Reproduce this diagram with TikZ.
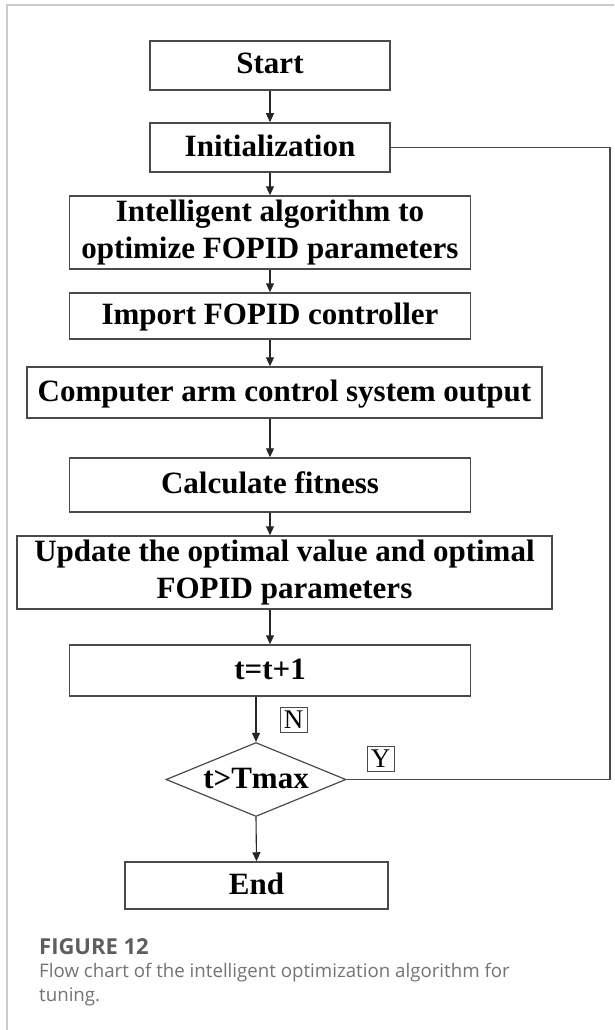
\documentclass[tikz,border=0pt]{standalone}
\usepackage{fontspec}
\setmainfont{Liberation Serif}
\newfontfamily\capfont{Open Sans}
\usetikzlibrary{arrows.meta,shapes.geometric}
\definecolor{edge}{HTML}{4A4A4A}
\definecolor{frame}{HTML}{CCCCCC}
\definecolor{capdark}{HTML}{5E5E5E}
\definecolor{caplight}{HTML}{747474}

\begin{document}
\begin{tikzpicture}[x=1pt,y=-1pt,
  blk/.style={draw=edge, line width=1.5pt, rectangle, inner sep=0pt,
    font=\bfseries\fontsize{31}{37}\selectfont, align=center},
  one/.style={text height=23pt, text depth=6pt},
  flow/.style={draw=black!85, line width=1.1pt, -{Triangle[length=9pt,width=8pt]}},
  back/.style={draw=edge, line width=1.2pt},
  tag/.style={draw=edge, line width=0.9pt, inner sep=0pt, minimum width=27pt,
    minimum height=25pt, text height=17.5pt, text depth=0pt,
    font=\fontsize{27}{27}\selectfont},
]
% page and frame
\useasboundingbox (0,0) rectangle (614,1030);
\fill[white] (0,0) rectangle (614,1030);
\draw[frame, line width=1.5pt] (7,1030) -- (7,5) -- (614,5);

% process steps
\node[blk, one, minimum width=240pt, minimum height=49pt] (start) at (270,65.5) {Start};
\node[blk, one, minimum width=240pt, minimum height=49pt] (init) at (270,147.5) {Initialization};
\node[blk, minimum width=401pt, minimum height=73pt] (alg) at (270,232.5)
  {Intelligent algorithm to\\optimize FOPID parameters};
\node[blk, one, minimum width=401pt, minimum height=46pt] (imp) at (270,316) {Import FOPID controller};
\node[blk, one, minimum width=515pt, minimum height=51pt] (cmp) at (284.5,392.5) {Computer arm control system output};
\node[blk, one, minimum width=401pt, minimum height=54pt] (fit) at (270,485) {Calculate fitness};
\node[blk, minimum width=535pt, minimum height=73pt] (upd) at (284.5,572.5)
  {Update the optimal value and optimal\\FOPID parameters};
\node[blk, one, minimum width=401pt, minimum height=51pt] (inc) at (270,670.5) {t=t+1};
\node[blk, one, shape=diamond, aspect=2.4, line width=1.2pt, minimum width=180pt, minimum height=74pt] (dec) at (256,779.5) {t>Tmax};
\node[blk, one, minimum width=263pt, minimum height=47pt] (stop) at (256.5,885.5) {End};

% branch labels
\node[tag] (no) at (293.5,719.5) {N};
\node[tag] (yes) at (380.5,759) {Y};

% connectors
\draw[flow] (start.south) -- (init.north);
\draw[flow] (init.south) -- (alg.north);
\draw[flow] (alg.south) -- (imp.north);
\draw[flow] (imp.south) -- (imp.south |- cmp.north);
\draw[flow] (imp.south |- cmp.south) -- (fit.north);
\draw[flow] (fit.south) -- (fit.south |- upd.north);
\draw[flow] (fit.south |- upd.south) -- (inc.north);
\draw[flow] (dec.north |- inc.south) -- (dec.north);
\draw[flow] (dec.south) -- (stop.north);

% return path from the decision to initialization
\coordinate (rt) at (610,147.5);
\draw[back] (init.east) -- (rt) |- (dec.east);

% caption
\node[anchor=base west, inner sep=0pt, text=capdark, font=\capfont\bfseries\fontsize{22}{22}\selectfont] (fig) at (39,954) {FIGURE 12};
\node[anchor=base west, inner sep=0pt, text=caplight, font=\capfont\fontsize{18.7}{24}\selectfont] (cap1) at (39,977)
  {Flow chart of the intelligent optimization algorithm for};
\node[anchor=base west, inner sep=0pt, text=caplight, font=\capfont\fontsize{18.7}{24}\selectfont] (cap2) at (39,1001)
  {tuning.};
\end{tikzpicture}
\end{document}
